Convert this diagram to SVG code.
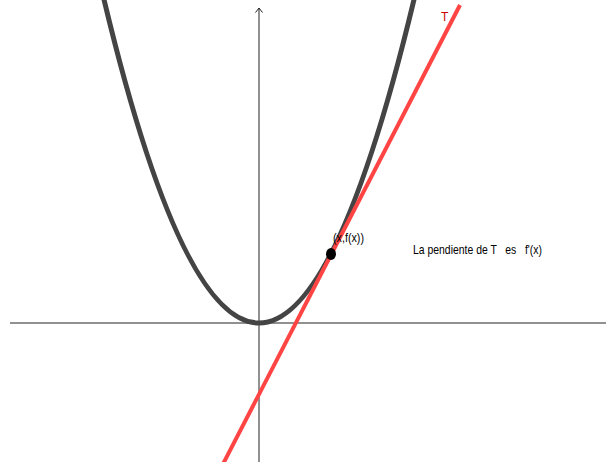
<svg xmlns="http://www.w3.org/2000/svg" width="606" height="462" viewBox="0 0 606 462">
<style>
.axis{stroke:#222;stroke-width:1;fill:none}
.lbl{font-family:"Liberation Sans",Arial,sans-serif;font-size:13px;fill:#000}
</style>
<rect width="606" height="462" fill="#fff"/>
<g id="axes">
<line class="axis" x1="10" y1="323" x2="606" y2="323"/>
<line class="axis" x1="259" y1="462" x2="259" y2="8"/>
<polyline class="axis" points="255.5,12.5 259,8 262.5,12.5"/>
</g>
<g id="parabola">
<path d="M103,-4.6 Q259,650.6 415,-4.6" fill="none" stroke="#444" stroke-width="5"/>
</g>
<g id="tangent">
<line x1="222.5" y1="465" x2="460" y2="5" stroke="#ff4444" stroke-width="4"/>
<text x="441" y="21" font-family="Liberation Sans,Arial,sans-serif" font-size="12" fill="#cc0000">T</text>
</g>
<g id="point">
<ellipse cx="331" cy="254" rx="5" ry="6" fill="#000"/>
<text class="lbl" x="333" y="242" textLength="31" lengthAdjust="spacingAndGlyphs">(x,f(x))</text>
</g>
<g id="note">
<text class="lbl" x="413" y="254" textLength="129" lengthAdjust="spacingAndGlyphs" xml:space="preserve">La pendiente de T   es   f'(x)</text>
</g>
</svg>
